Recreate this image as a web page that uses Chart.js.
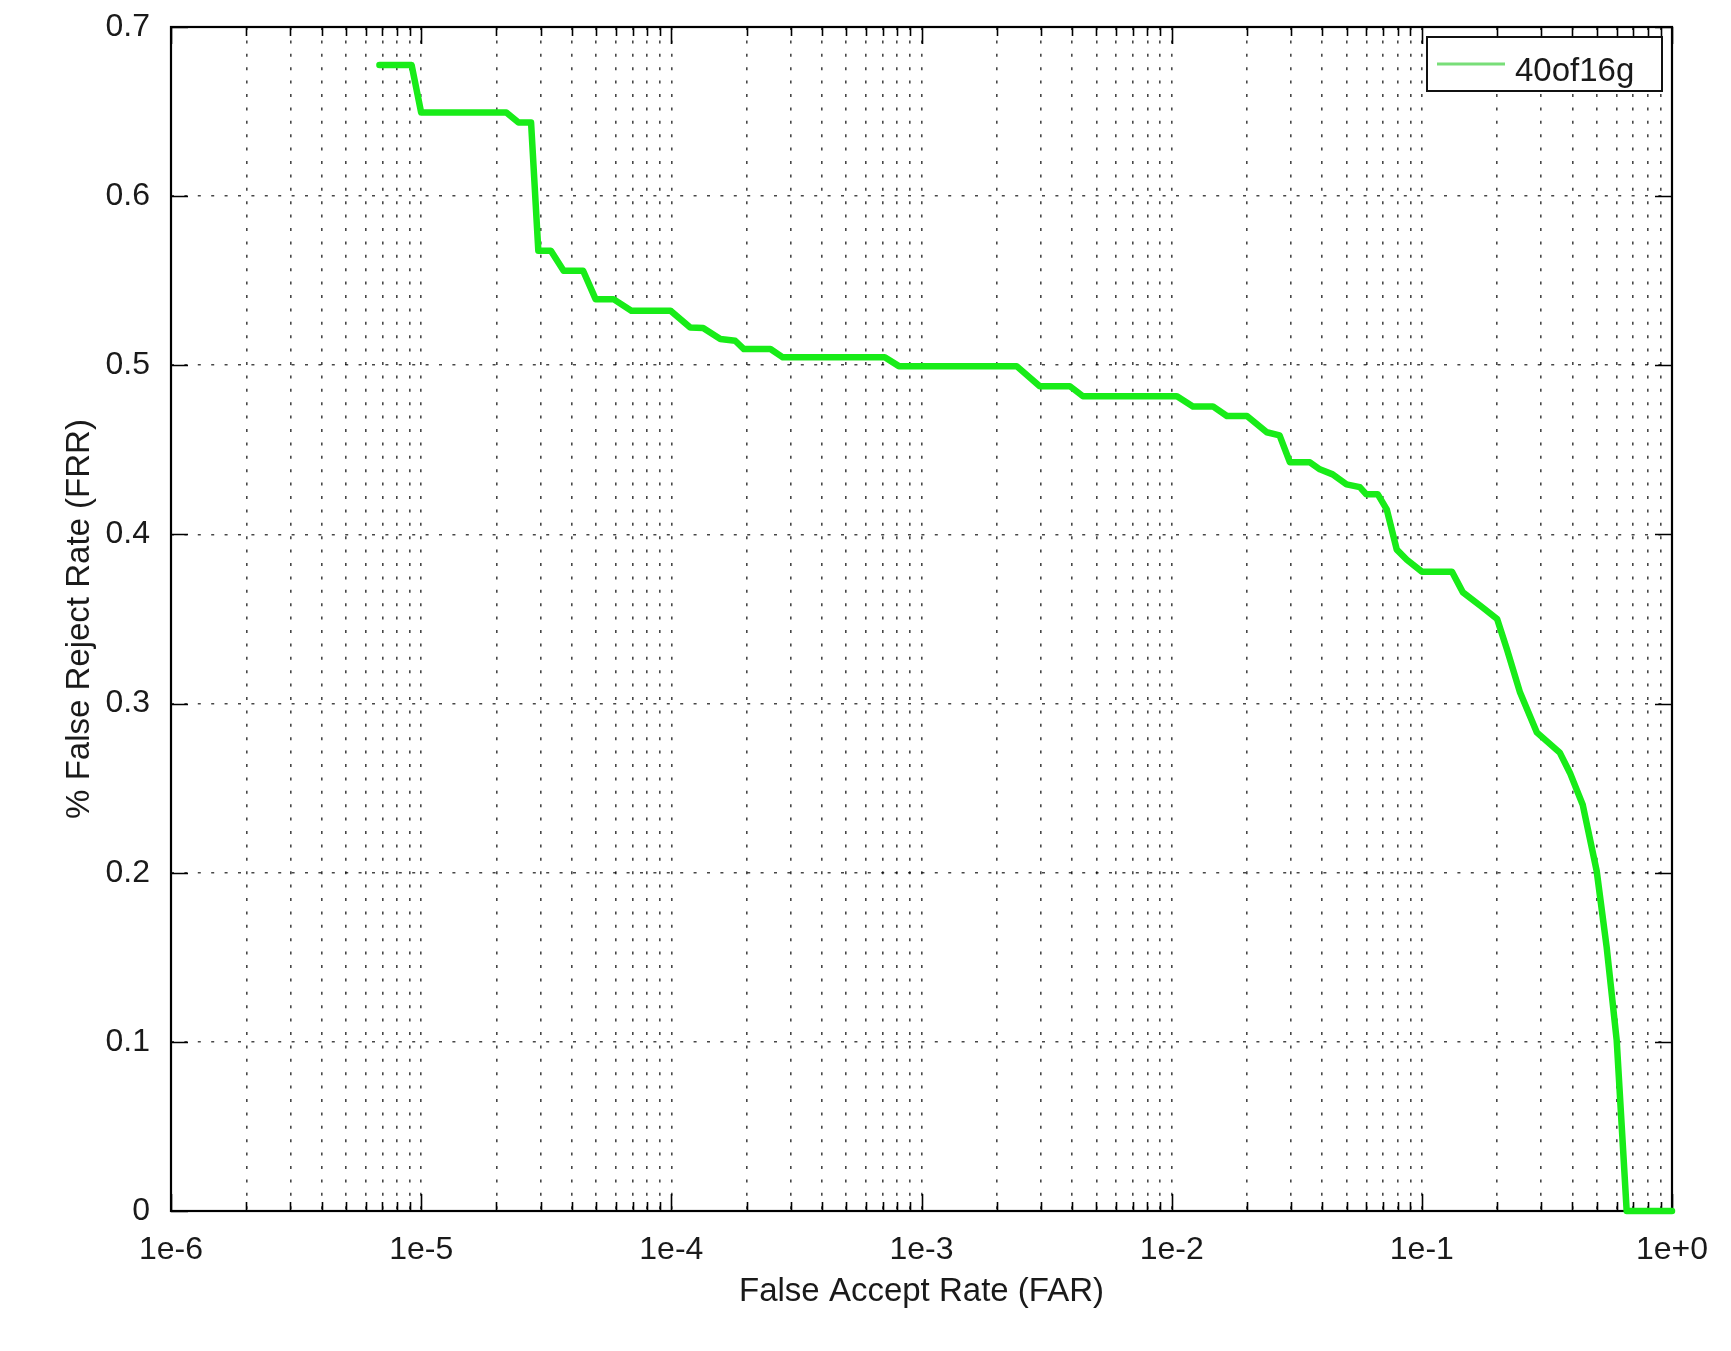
<!DOCTYPE html>
<html>
<head>
<meta charset="utf-8">
<script src="https://cdn.jsdelivr.net/npm/chart.js@4.4.1/dist/chart.umd.min.js"></script>
<style>
  html, body { margin: 0; padding: 0; background: #ffffff; }
  #wrap { width: 1731px; height: 1351px; }
</style>
</head>
<body>
<div id="wrap"><canvas id="c" width="1731" height="1351"></canvas></div>
<script>
// ---------------- data ----------------
const seriesLabel = '40of16g';
const far = [
  6.81e-6, 9.16e-6, 1.0e-5, 2.19e-5, 2.45e-5, 2.75e-5, 2.94e-5, 3.30e-5, 3.71e-5, 4.44e-5,
  4.98e-5, 5.87e-5, 6.92e-5, 9.93e-5, 1.19e-4, 1.34e-4, 1.57e-4, 1.80e-4, 1.95e-4, 2.49e-4,
  2.79e-4, 7.13e-4, 8.12e-4, 2.40e-3, 2.97e-3, 3.92e-3, 4.42e-3, 1.05e-2, 1.216e-2, 1.462e-2,
  1.663e-2, 2.0e-2, 2.4e-2, 2.7e-2, 2.97e-2, 3.57e-2, 3.91e-2, 4.4e-2, 5.0e-2, 5.65e-2,
  6.0e-2, 6.67e-2, 7.24e-2, 7.94e-2, 8.71e-2, 1.0e-1, 1.32e-1, 1.46e-1, 1.75e-1, 2.0e-1,
  2.19e-1, 2.47e-1, 2.88e-1, 3.56e-1, 3.91e-1, 4.4e-1, 5.0e-1, 5.48e-1, 6.01e-1, 6.59e-1,
  1.0
];
const frr = [
  0.6775, 0.6775, 0.6494, 0.6494, 0.6435, 0.6435, 0.5677, 0.5677, 0.5559, 0.5559,
  0.5391, 0.5391, 0.5322, 0.5322, 0.5224, 0.5220, 0.5155, 0.5145, 0.5096, 0.5096,
  0.5047, 0.5047, 0.4995, 0.4995, 0.4876, 0.4876, 0.4817, 0.4817, 0.4757, 0.4757,
  0.4700, 0.4700, 0.4604, 0.4586, 0.4426, 0.4426, 0.4385, 0.4355, 0.4296, 0.4280,
  0.4237, 0.4237, 0.4148, 0.3910, 0.3850, 0.3780, 0.3780, 0.3657, 0.3568, 0.3500,
  0.3320, 0.3065, 0.2830, 0.2710, 0.2590, 0.2400, 0.2010, 0.1560, 0.1010, 0.0,
  0.0
];
const xDecades = [1e-6, 1e-5, 1e-4, 1e-3, 1e-2, 1e-1, 1];
const xTickLabels = ['1e-6', '1e-5', '1e-4', '1e-3', '1e-2', '1e-1', '1e+0'];
const yTicks = [0, 0.1, 0.2, 0.3, 0.4, 0.5, 0.6, 0.7];
const yTickLabels = ['0', '0.1', '0.2', '0.3', '0.4', '0.5', '0.6', '0.7'];
const xTitle = 'False Accept Rate (FAR)';
const yTitle = '% False Reject Rate (FRR)';

// ---------------- styling ----------------
const FONT = '"Liberation Sans", Arial, Helvetica, sans-serif';
const TEXT = '#1a1a1a';
const LINE_GREEN = 'rgb(24,236,24)';
const LEGEND_GREEN = 'rgb(120,222,120)';

function isDecade(v) {
  const l = Math.log10(v);
  return Math.abs(l - Math.round(l)) < 1e-9;
}
function decadeIndex(v) {
  for (let i = 0; i < xDecades.length; i++) {
    if (Math.abs(Math.log10(v) - Math.log10(xDecades[i])) < 1e-9) return i;
  }
  return -1;
}

const framePlugin = {
  id: 'frameTicks',
  beforeDatasetsDraw(chart) {
    const { ctx, chartArea: a, scales: { x, y } } = chart;
    ctx.save();
    ctx.setLineDash([]);
    ctx.strokeStyle = '#000';
    ctx.lineWidth = 1.6;
    ctx.beginPath();
    x.ticks.forEach(t => {
      const px = Math.round(x.getPixelForValue(t.value)) + 0.5;
      const len = isDecade(t.value) ? 17 : 9;
      ctx.moveTo(px, a.bottom); ctx.lineTo(px, a.bottom - len);
      ctx.moveTo(px, a.top); ctx.lineTo(px, a.top + len);
    });
    y.ticks.forEach(t => {
      const py = Math.round(y.getPixelForValue(t.value)) + 0.5;
      ctx.moveTo(a.left, py); ctx.lineTo(a.left + 17, py);
      ctx.moveTo(a.right, py); ctx.lineTo(a.right - 17, py);
    });
    ctx.stroke();
    ctx.lineWidth = 2.2;
    ctx.strokeRect(a.left, a.top, a.right - a.left, a.bottom - a.top);
    ctx.restore();
  },
  afterDraw(chart) {
    const { ctx, chartArea: a } = chart;
    const ds = chart.data.datasets[0];
    const bx = a.right - 245, by = a.top + 10, bw = 235, bh = 54;
    ctx.save();
    ctx.setLineDash([]);
    ctx.fillStyle = '#fff';
    ctx.fillRect(bx, by, bw, bh);
    ctx.strokeStyle = '#111';
    ctx.lineWidth = 2;
    ctx.strokeRect(bx, by, bw, bh);
    ctx.strokeStyle = LEGEND_GREEN;
    ctx.lineWidth = 3;
    ctx.beginPath();
    ctx.moveTo(bx + 10, by + 27);
    ctx.lineTo(bx + 78, by + 27);
    ctx.stroke();
    ctx.fillStyle = TEXT;
    ctx.font = '33px ' + FONT;
    ctx.textBaseline = 'alphabetic';
    ctx.textAlign = 'left';
    ctx.fillText(ds.label, bx + 88, by + 44);
    ctx.restore();
  }
};

const points = far.map((v, i) => ({ x: v, y: frr[i] }));

new Chart(document.getElementById('c'), {
  type: 'line',
  data: {
    datasets: [{
      label: seriesLabel,
      data: points,
      borderColor: LINE_GREEN,
      backgroundColor: LINE_GREEN,
      borderWidth: 6.5,
      pointRadius: 0,
      tension: 0,
      borderJoinStyle: 'round',
      borderCapStyle: 'round',
      fill: false,
      clip: 8
    }]
  },
  options: {
    responsive: false,
    animation: false,
    devicePixelRatio: 1,
    layout: { padding: { top: 27, right: 59, left: 0, bottom: 0 } },
    plugins: {
      legend: { display: false },
      tooltip: { enabled: false },
      title: { display: false }
    },
    scales: {
      x: {
        type: 'logarithmic',
        position: 'bottom',
        min: 1e-6,
        max: 1,
        afterBuildTicks(scale) {
          const t = [];
          for (let d = 0; d < xDecades.length; d++) {
            const dec = xDecades[d];
            if (d === xDecades.length - 1) { t.push({ value: dec }); break; }
            for (let m = 1; m <= 9; m++) {
              t.push({ value: m === 1 ? dec : m * dec });
            }
          }
          scale.ticks = t;
        },
        afterFit(scale) {
          scale.height = 140;
          scale.paddingLeft = 0; scale.paddingRight = 0;
          scale.paddingTop = 0; scale.paddingBottom = 0;
        },
        ticks: {
          autoSkip: false,
          maxRotation: 0,
          minRotation: 0,
          padding: 20,
          color: TEXT,
          font: { family: FONT, size: 32 },
          callback(value) {
            const i = decadeIndex(value);
            return i >= 0 ? xTickLabels[i] : '';
          }
        },
        grid: {
          drawTicks: false,
          color: 'rgba(0,0,0,0.72)',
          lineWidth: 1.6
        },
        border: { display: false, dash: [3, 10.4] },
        title: {
          display: true,
          text: xTitle,
          color: TEXT,
          font: { family: FONT, size: 33 },
          padding: { top: 0, bottom: 39 }
        }
      },
      y: {
        type: 'linear',
        position: 'left',
        min: 0,
        max: 0.7,
        afterBuildTicks(scale) {
          scale.ticks = yTicks.map(v => ({ value: v }));
        },
        afterFit(scale) {
          scale.width = 171;
          scale.paddingLeft = 0; scale.paddingRight = 0;
          scale.paddingTop = 0; scale.paddingBottom = 0;
        },
        ticks: {
          padding: 21,
          color: TEXT,
          font: { family: FONT, size: 32 },
          callback(value, index) { return yTickLabels[index]; }
        },
        grid: {
          drawTicks: false,
          color: 'rgba(0,0,0,0.72)',
          lineWidth: 1.6
        },
        border: { display: false, dash: [3, 10.4] },
        title: {
          display: true,
          text: yTitle,
          color: TEXT,
          font: { family: FONT, size: 33 },
          padding: { top: 60, bottom: 0 }
        }
      }
    }
  },
  plugins: [framePlugin]
});
</script>
</body>
</html>
